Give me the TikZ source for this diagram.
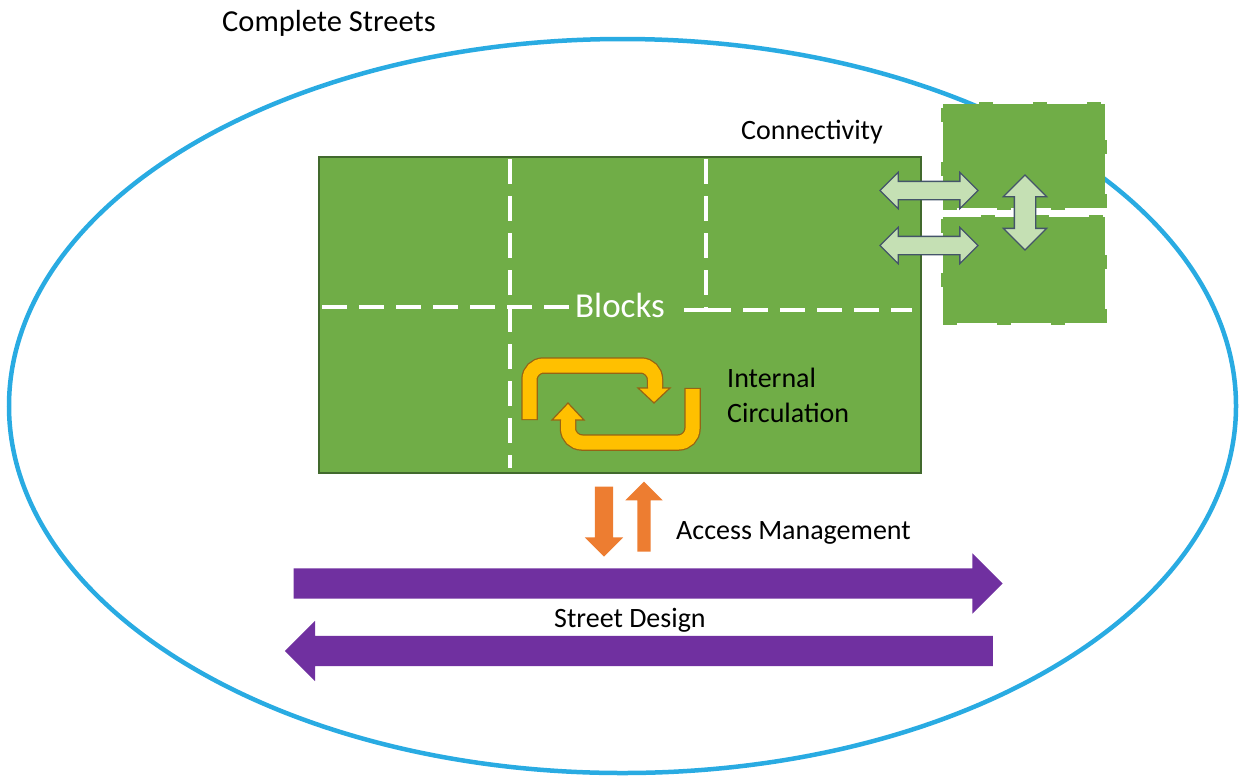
\documentclass[tikz,border=0pt]{standalone}
\usepackage{fontspec}
\setmainfont{Carlito}
\usetikzlibrary{shapes.arrows, positioning}

\definecolor{ringblue}{RGB}{41,171,226}
\definecolor{blockgreen}{RGB}{112,173,71}
\definecolor{blockedge}{RGB}{65,105,45}
\definecolor{linkgreen}{RGB}{197,224,180}
\definecolor{linkedge}{RGB}{68,84,106}
\definecolor{loopgold}{RGB}{255,192,0}
\definecolor{loopedge}{RGB}{150,100,20}
\definecolor{accessorange}{RGB}{237,125,49}
\definecolor{streetpurple}{RGB}{112,48,160}

\begin{document}
\begin{tikzpicture}[
    x=1pt, y=-1pt, % one unit = one pixel of the sketch, y downwards
    % Styles
    tag/.style={ % Black labels
        font=\fontsize{28}{35}\selectfont,
        inner sep=0pt,
        anchor=base west
    },
    block/.style={ % The block of land
        rectangle,
        fill=blockgreen,
        draw=blockedge,
        line width=1.2pt,
        inner sep=0pt
    },
    lot/.style={ % Neighbouring lots
        rectangle,
        fill=blockgreen,
        draw=blockgreen,
        line width=4pt,
        dash pattern=on 14pt off 40pt,
        inner sep=0pt,
        minimum width=162pt
    },
    parcel/.style={ % Dashed parcel lines
        white,
        line width=3.5pt,
        dash pattern=on 25pt off 12pt
    },
    link/.style={ % Connectivity arrows
        double arrow,
        fill=linkgreen,
        draw=linkedge,
        line width=1.3pt,
        inner xsep=0pt
    },
    access/.style={
        single arrow,
        fill=accessorange,
        inner xsep=0pt,
        minimum height=70pt
    },
    street/.style={
        single arrow,
        fill=streetpurple,
        inner xsep=0pt,
        inner ysep=15pt,
        single arrow head extend=15pt
    },
    loopback/.style={ % Border of the circulation arrows
        loopedge,
        line width=16.5pt,
        rounded corners=14pt
    },
    loopfront/.style={
        loopgold,
        line width=14pt,
        rounded corners=14pt
    }
]
    \useasboundingbox (0,0) rectangle (1241,777);

    % Complete streets ring
    \draw[ringblue, line width=4.5pt] (622.5,406) ellipse [x radius=613.5pt, y radius=367pt];
    \node[tag, font=\fontsize{30.5}{36}\selectfont] (title) at (222,31) {Complete Streets};

    % The block and its parcels
    \node[block, minimum width=602pt, minimum height=316pt] (site) at (620,315) {};
    \draw[parcel] (510,159) -- (510,468);
    \draw[parcel] (706,159) -- (706,310) -- (680,310);
    \draw[parcel] (322,307) -- (575,307);
    \draw[parcel] (706,310) -- (912,310);
    \node[white, font=\fontsize{35}{40}\selectfont, inner sep=0pt, anchor=base] (blocks) at (620,317) {Blocks};

    % Neighbouring lots
    \node[lot, minimum height=104pt] (lotA) at (1024,156) {};
    \node[lot, minimum height=106pt] (lotB) at (1024,269.5) {};

    % Connectivity
    \foreach \y in {190.5,245.5}
        \node[link, minimum height=98pt, inner ysep=8.5pt, double arrow head extend=9pt] (link\y) at (929,\y) {};
    \node[link, rotate=90, minimum height=75pt, inner ysep=10pt, double arrow head extend=11pt] (linkV) at (1025,212.5) {};
    \node[tag] (conn) at (741,139) {Connectivity};

    % Internal circulation
    \draw[loopback] (529.5,420.2) -- (529.5,365.5) -- (655,365.5) -- (655,389);
    \draw[loopfront] (529.5,419) -- (529.5,365.5) -- (655,365.5) -- (655,390);
    \fill[loopgold] (638,388) -- (670,388) -- (654,403) -- cycle;
    \draw[loopedge, line width=1.2pt] (648,388) -- (638,388) -- (654,403) -- (670,388) -- (662,388);

    \draw[loopback] (692.5,387.8) -- (692.5,442.5) -- (568,442.5) -- (568,419);
    \draw[loopfront] (692.5,389) -- (692.5,442.5) -- (568,442.5) -- (568,418);
    \fill[loopgold] (552,420) -- (584,420) -- (568,403) -- cycle;
    \draw[loopedge, line width=1.2pt] (561,420) -- (552,420) -- (568,403) -- (584,420) -- (575,420);
    \node[tag, align=left] (circ) at (727,422) {Internal\\Circulation};

    % Access management
    \node[access, rotate=-90, inner ysep=9pt, single arrow head extend=10pt] (accIn) at (604,517) {};
    \node[access, rotate=90, inner ysep=6.5pt, single arrow head extend=12pt] (accOut) at (644,520) {};
    \node[tag] (access) at (676,539) {Access Management};

    % Street design
    \node[street, minimum height=709pt] (streetE) at (640.5,583.5) {};
    \node[street, rotate=180, minimum height=708pt] (streetW) at (646.5,651) {};
    \node[tag] (street) at (554,627) {Street Design};
\end{tikzpicture}
\end{document}
